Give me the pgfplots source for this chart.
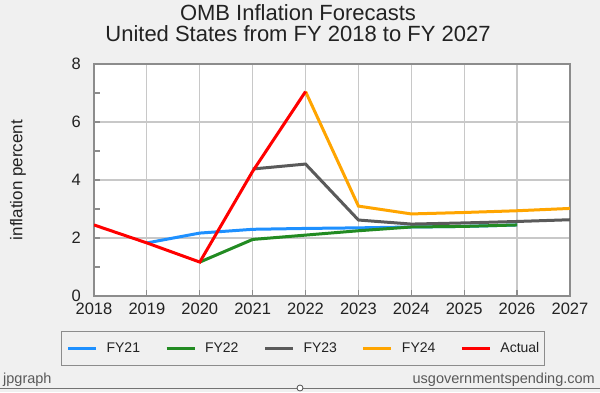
\documentclass[border=0pt]{standalone}
\usepackage{pgfplots}
\pgfplotsset{compat=1.18}
\usepackage{fontspec}
\setmainfont{Liberation Sans}
\definecolor{bgcol}{HTML}{F0F0F0}
\definecolor{gridcol}{HTML}{C8C8C8}
\definecolor{axcol}{HTML}{8C8C8C}
\definecolor{c21}{HTML}{1E90FF}
\definecolor{c22}{HTML}{228B22}
\definecolor{c23}{HTML}{5A5A5A}
\definecolor{c24}{HTML}{FFA500}
\definecolor{cact}{HTML}{FF0000}
\definecolor{txt}{HTML}{222222}
\begin{document}
\begin{tikzpicture}[x=1pt,y=1pt]
\fill[bgcol] (0,0) rectangle (600,392);
\useasboundingbox (0,0) rectangle (600,392);
\begin{axis}[
  at={(94pt,96pt)}, anchor=south west,
  scale only axis, width=476pt, height=232pt,
  xmin=2018, xmax=2027, ymin=0, ymax=8,
  xtick={2018,2019,...,2027},
  ytick={0,2,4,6,8},
  minor ytick={1,3,5,7},
  grid=major,
  major grid style={gridcol, line width=1.2pt},
  axis background/.style={fill=white},
  axis line style={axcol, line width=1.5pt},
  tick style={axcol, line width=1.2pt},
  major tick length=6pt, minor tick length=6pt,
  tick align=inside,
  xtick pos=bottom, ytick pos=left,
  /pgf/number format/assume math mode=true,
  /pgf/number format/1000 sep={},
  ticklabel style={font=\fontsize{16.5}{18}\selectfont, text=txt},
  xticklabel style={anchor=north, inner sep=0pt, yshift=-7pt},
  yticklabel style={anchor=east, inner sep=0pt, xshift=-13pt},
  legend columns=5,
  legend image code/.code={\draw[#1, line width=3pt] (0pt,0pt) -- (28pt,0pt);},
  legend style={at={(axis description cs:0.439,-0.226)}, anchor=center,
    draw=axcol, line width=1.5pt, fill=bgcol,
    inner xsep=5pt, inner ysep=11pt,
    font=\fontsize{14}{16}\selectfont, text=txt,
    nodes={inner sep=0pt},
    /tikz/every odd column/.append style={column sep=9pt},
    /tikz/every even column/.append style={column sep=25pt}},
]
\addplot[c21, line width=3pt] coordinates {(2019,1.83) (2020,2.17) (2021,2.3) (2022,2.33) (2023,2.35) (2024,2.38) (2025,2.4) (2026,2.45)};
\addlegendentry{FY21}
\addplot[c22, line width=3pt] coordinates {(2020,1.17) (2021,1.95) (2022,2.1) (2023,2.25) (2024,2.38) (2025,2.4) (2026,2.45)};
\addlegendentry{FY22}
\addplot[c23, line width=3pt] coordinates {(2021,4.38) (2022,4.55) (2023,2.62) (2024,2.48) (2025,2.52) (2026,2.57) (2027,2.63)};
\addlegendentry{FY23}
\addplot[c24, line width=3pt] coordinates {(2022,7.05) (2023,3.1) (2024,2.83) (2025,2.88) (2026,2.94) (2027,3.02)};
\addlegendentry{FY24}
\addplot[cact, line width=3pt] coordinates {(2018,2.45) (2019,1.83) (2020,1.17) (2021,4.3) (2022,7.05)};
\addlegendentry{Actual}
\end{axis}
\node[anchor=base, inner sep=0pt, text=txt, font=\fontsize{22}{24}\selectfont] at (298,371) {OMB Inflation Forecasts};
\node[anchor=base, inner sep=0pt, text=txt, font=\fontsize{22}{24}\selectfont] at (298,350) {United States from FY 2018 to FY 2027};
\node[rotate=90, inner sep=0pt, text=txt, font=\fontsize{17}{19}\selectfont] at (18,212) {inflation percent};
\node[anchor=base west, inner sep=0pt, text=black!65, font=\fontsize{14.5}{16}\selectfont] at (3,9) {jpgraph};
\node[anchor=base east, inner sep=0pt, text=black!65, font=\fontsize{14.5}{16}\selectfont] at (595,9) {usgovernmentspending.com};
\draw[black!55, line width=0.8pt] (0,4) -- (600,4);
\draw[black!70, fill=white, line width=0.8pt] (300,4) circle (3);
\end{tikzpicture}
\end{document}
